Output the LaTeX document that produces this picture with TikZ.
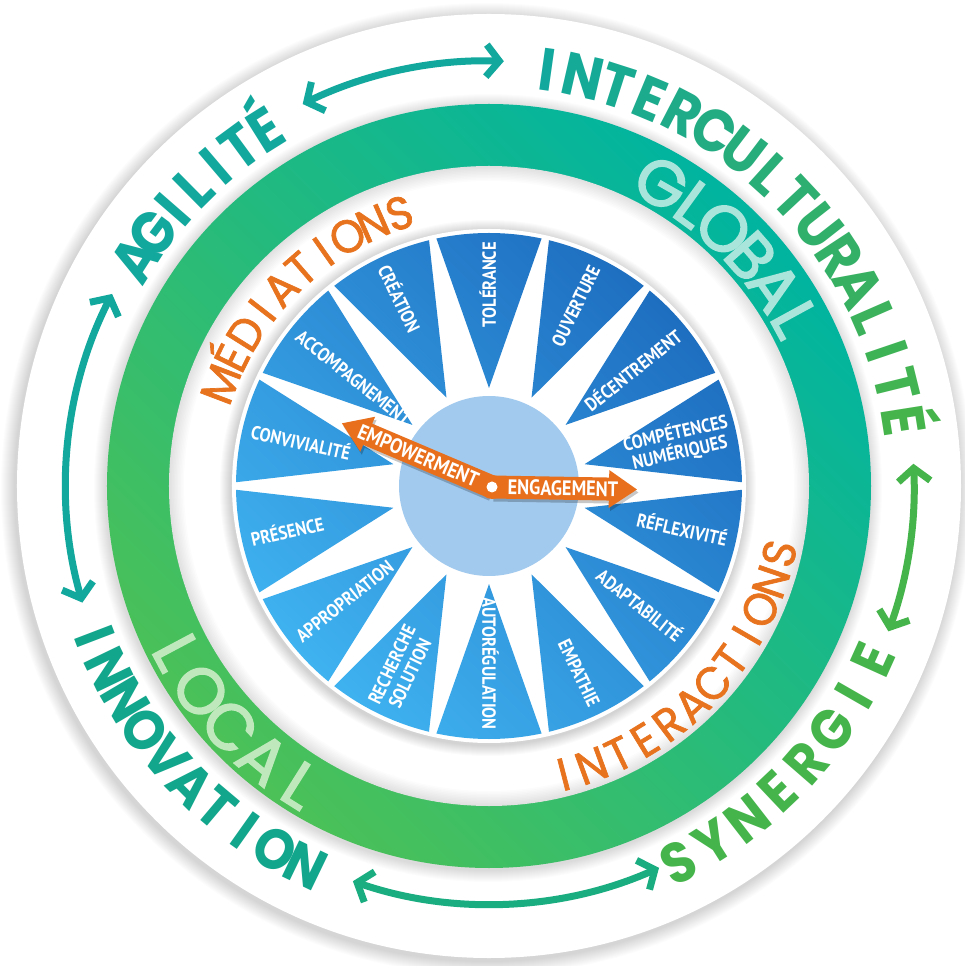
\documentclass[tikz,border=0pt]{standalone}
\usepackage{fontspec}
\setmainfont{Poppins}
\newfontfamily\popfont{Poppins}[FakeStretch=0.9]
\newfontfamily\popsemi{Poppins}[FakeBold=1.5,FakeStretch=0.95]
\newfontfamily\popring{Poppins}[FakeBold=2.5]
\newfontfamily\lblfont{PT Sans}[FakeStretch=0.87]
\usetikzlibrary{arrows.meta}
\definecolor{teal1}{HTML}{12A89D}
\definecolor{green1}{HTML}{45B54B}
\definecolor{innov}{HTML}{12A68C}
\definecolor{botarrow}{HTML}{19AD80}
\definecolor{ringteal}{HTML}{00B4A0}
\definecolor{ringgreen}{HTML}{4CC157}
\definecolor{orangeA}{HTML}{E8701C}
\definecolor{orangeT}{HTML}{E8731F}
\definecolor{blueD}{HTML}{1E6EC0}
\definecolor{blueL}{HTML}{3FB2F0}
\definecolor{hub}{HTML}{A2CAEE}
\definecolor{globalc}{HTML}{A9E5DA}
\definecolor{localc}{HTML}{BFE9BC}
\newcommand\outerfont{\popfont\bfseries\fontsize{60}{60}\selectfont}
\newcommand\outerfontB{\popfont\bfseries\fontsize{57}{57}\selectfont}
\newcommand\ringfont{\popring\fontsize{64}{64}\selectfont}
\newcommand\innerfont{\popsemi\fontsize{46}{46}\selectfont}
\newlength\awlen
% #1 name, #2 baseline radius, #3 angle of first letter centre, #4 angle of last letter centre,
% #5 font, #6 start colour, #7 end colour, #8 letters as letter/advance-factor pairs
\newcommand\arcword[8]{%
  \xdef\awsum{0}\xdef\awn{0}%
  \foreach \awch/\awf in {#8}{%
    \settowidth\awlen{#5\awch}\awlen=\awf\awlen
    \pgfmathsetmacro\awtmp{\awsum+\awlen}\xdef\awsum{\awtmp}%
    \pgfmathtruncatemacro\awtmpn{\awn+1}\xdef\awn{\awtmpn}%
    \ifnum\awn=1 \xdef\awfirst{\the\awlen}\fi
    \xdef\awlast{\the\awlen}%
  }%
  \pgfmathsetmacro\awdir{((#4)<(#3)) ? 1 : -1}%
  \pgfmathsetmacro\awarc{abs((#3)-(#4))*pi/180*(#2)}%
  \pgfmathsetmacro\awtrack{(\awarc-(\awsum-\awfirst/2-\awlast/2))/max(\awn-1,1)}%
  \pgfmathsetmacro\awtmp{-\awfirst/2}\xdef\awpos{\awtmp}%
  \foreach \awch/\awf [count=\awi] in {#8}{%
    \settowidth\awlen{#5\awch}\awlen=\awf\awlen
    \pgfmathsetmacro\awc{\awpos+\awlen/2}%
    \pgfmathsetmacro\awang{(#3)-\awdir*deg(\awc/(#2))}%
    \pgfmathsetmacro\awrot{\awang-\awdir*90}%
    \pgfmathtruncatemacro\awmix{\awn>1 ? 100*(\awi-1)/(\awn-1) : 0}%
    \node[arcletter, text=#7!\awmix!#6, rotate=\awrot] (#1-\awi) at (\awang:#2) {#5\awch};
    \pgfmathsetmacro\awtmp{\awpos+\awlen+\awtrack}\xdef\awpos{\awtmp}%
  }%
}
\begin{document}
\begin{tikzpicture}[x=1pt,y=1pt,
  arcletter/.style={anchor=base, inner sep=0pt, outer sep=0pt},
  wlabel/.style={text=white, font=\lblfont\bfseries\fontsize{19}{20}\selectfont, inner sep=0pt},
  wsingle/.style={wlabel, text height=13.5pt, text depth=0pt},
  arrowtxt/.style={text=white, font=\lblfont\bfseries\fontsize{21}{21}\selectfont, inner sep=0pt, text height=14.5pt, text depth=0pt},
  outarrow/.style={line width=7pt, {Straight Barb[length=13pt,width=32pt]}-{Straight Barb[length=13pt,width=32pt]}},
  softshadow/.style={black, opacity=0.012}
]
\useasboundingbox (-489,-480) rectangle (476,486);
\fill[white] (-489,-480) rectangle (476,486);
% outer disc with soft shadow
\foreach \i in {0,...,13} \fill[softshadow] (-2,-3) circle ({486-\i});
\fill[white] (0,0) circle (472);
% green ring
\foreach \i in {0,...,11} \fill[softshadow] (-1,-2) circle ({394-\i});
\shade[top color=ringteal, bottom color=ringgreen, shading angle=-45] (0,0) circle (382);
\fill[white] (0,0) circle (320);
\foreach \i in {1,...,10} \fill[softshadow, even odd rule] (0,0) circle (320) circle ({320-1.5*\i});
% wheel
\foreach \i in {0,...,10} \fill[black, opacity=0.015] (-1,-2) circle ({268-\i});
\fill[white] (0,0) circle (257);
\shade[top color=blueD, bottom color=blueL, shading angle=-45]
  \foreach \k in {0,...,13}{
    ({90-\k*360/14}:98) -- ({90-\k*360/14+12}:253)
    arc[start angle={90-\k*360/14+12}, end angle={90-\k*360/14-12}, radius=253] -- cycle
  };
\fill[hub] (0,0) circle (90);
% wheel labels
\foreach \k/\txt in {0/TOLÉRANCE,1/OUVERTURE,2/DÉCENTREMENT,4/RÉFLEXIVITÉ,5/ADAPTABILITÉ,6/EMPATHIE,7/AUTORÉGULATION}{
  \pgfmathsetmacro\wa{90-\k*360/14}
  \node[wsingle, anchor=east, rotate=\wa] (lab\k) at (\wa:244) {\txt};
}
\foreach \k/\txt in {9/APPROPRIATION,10/PRÉSENCE,11/CONVIVIALITÉ,12/ACCOMPAGNEMENT,13/CRÉATION}{
  \pgfmathsetmacro\wa{90-\k*360/14}
  \node[wsingle, anchor=west, rotate=\wa+180] (lab\k) at (\wa:244) {\txt};
}
\node[wlabel, align=center, anchor=east, rotate=90-3*360/14] (lab3) at ({90-3*360/14}:247) {COMPÉTENCES\\NUMÉRIQUES};
\node[wlabel, align=center, anchor=west, rotate=90-8*360/14+180] (lab8) at ({90-8*360/14}:246) {RECHERCHE\\SOLUTION};
% orange arrows
\coordinate (pin) at (3,-1);
\begin{scope}[shift={(4.5,-4)}]
  \begin{scope}[rotate=-1]
    \fill[black, opacity=0.22] (0,-11.5) -- (117,-11.5) -- (117,-19) -- (145,0) -- (117,19) -- (117,11.5) -- (0,11.5) -- cycle;
  \end{scope}
  \begin{scope}[rotate=157]
    \fill[black, opacity=0.22] (0,-11.5) -- (135,-11.5) -- (135,-19) -- (163,0) -- (135,19) -- (135,11.5) -- (0,11.5) -- cycle;
  \end{scope}
\end{scope}
\begin{scope}[shift={(pin)}, rotate=-1]
  \fill[orangeA] (0,-11.5) -- (117,-11.5) -- (117,-19) -- (145,0) -- (117,19) -- (117,11.5) -- (0,11.5) -- cycle;
  \node[arrowtxt, rotate=-1] (eng) at (71,0) {ENGAGEMENT};
\end{scope}
\begin{scope}[shift={(pin)}, rotate=157]
  \fill[orangeA] (0,-11.5) -- (135,-11.5) -- (135,-19) -- (163,0) -- (135,19) -- (135,11.5) -- (0,11.5) -- cycle;
  \node[arrowtxt, rotate=-23] (emp) at (80,0) {EMPOWERMENT};
\end{scope}
\fill[orangeA] (pin) circle (12);
\fill[white] (pin) circle (5.5);
% outer double arrows
\coordinate (ta1) at (116:425);
\draw[outarrow, teal1] (ta1) arc[start angle=116, end angle=88, radius=425];
\coordinate (la1) at (153:423);
\draw[outarrow, teal1] (la1) arc[start angle=153, end angle=196, radius=423];
\coordinate (ba1) at (251:418);
\draw[outarrow, botarrow] (ba1) arc[start angle=251, end angle=294, radius=418];
\coordinate (ra1) at (3:425);
\draw[outarrow, green1] (ra1) arc[start angle=3, end angle=-20, radius=425];
% curved words
\arcword{agi}{399}{147.3}{122.1}{\outerfont}{teal1}{teal1}{A/1,G/1,I/.3,L/.8,I/.3,T/1,É/1}
\arcword{inter}{399}{82}{9}{\outerfont}{teal1}{green1}{I/.3,N/1,T/1,E/1,R/1,C/1,U/1,L/.8,T/1,U/1,R/1,A/1,L/.8,I/.3,T/1,É/1}
\arcword{syn}{441}{-63.3}{-24.3}{\outerfontB}{green1}{green1}{S/1,Y/1,N/1,E/1,R/1,G/1,I/.3,E/1}
\arcword{inno}{442}{200.9}{244.3}{\outerfontB}{innov}{innov}{I/.3,N/1,N/1,O/1,V/1,A/1,T/1,I/.3,O/1,N/1}
\arcword{glob}{326}{60.3}{28.6}{\ringfont}{globalc}{globalc}{G/1,L/.8,O/1,B/1,A/1,L/1}
\arcword{loc}{376}{208}{237.8}{\ringfont}{localc}{localc}{L/.8,O/1,C/1,A/1,L/1}
\arcword{med}{271}{159.2}{108.2}{\innerfont}{orangeT}{orangeT}{M/1,É/1,D/1,I/.3,A/1,T/1,I/.3,O/1,N/1,S/1}
\arcword{intr}{314}{-75.5}{-13.1}{\innerfont}{orangeT}{orangeT}{I/.3,N/1,T/1,E/1,R/1,A/1,C/1,T/1,I/.3,O/1,N/1,S/1}
\end{tikzpicture}
\end{document}
